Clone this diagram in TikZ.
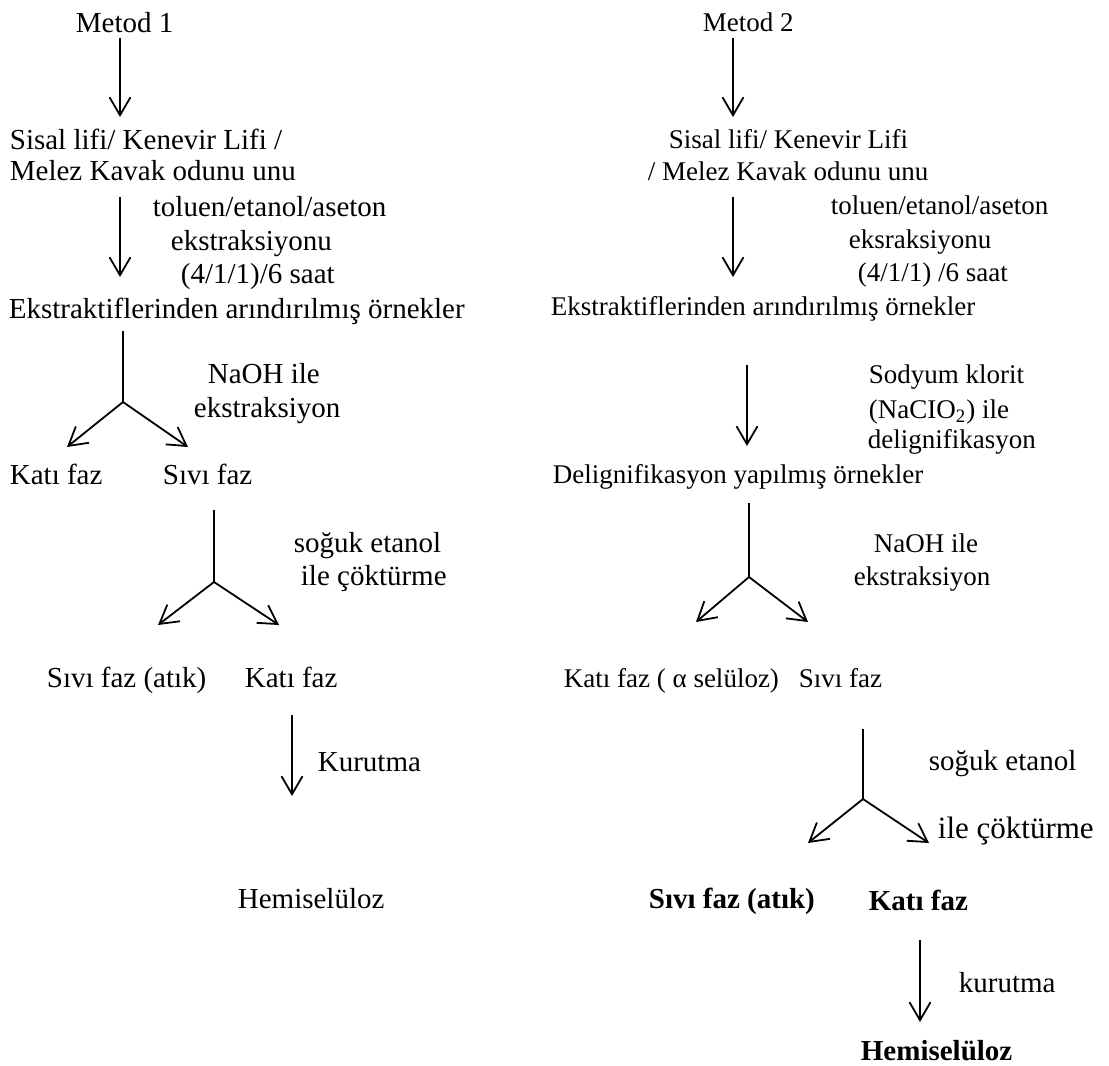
\documentclass[tikz,border=0pt]{standalone}
\usepackage{fontspec}
\setmainfont{Liberation Serif}
\usetikzlibrary{arrows.meta}

\begin{document}
\begin{tikzpicture}[
            x=0.5pt,
            y=-0.5pt,
            >={Straight Barb[length=9pt,width=10.5pt]},
            line width=0.9pt,
            big/.style={font=\fontsize{14.5}{17}\selectfont, inner sep=0pt, anchor=base west},
            small/.style={font=\fontsize{13.5}{16}\selectfont, inner sep=0pt, anchor=base west}
        ]

            \useasboundingbox (0,0) rectangle (1109,1066);

            % --- Metod 1 (left column) ---
            \node[big] (m1)     at (75,32)   {Metod 1};
            \node[big] (srcLa)  at (9,149)   {Sisal lifi/ Kenevir Lifi /};
            \node[big] (srcLb)  at (9,180)   {Melez Kavak odunu unu};
            \node[big] (condLa) at (152,216) {toluen/etanol/aseton};
            \node[big] (condLb) at (170,250) {ekstraksiyonu};
            \node[big] (condLc) at (180,283) {(4/1/1)/6 saat};
            \node[big] (extL)   at (8,318)   {Ekstraktiflerinden arındırılmış örnekler};
            \node[big] (naohLa) at (207,383) {NaOH ile};
            \node[big] (naohLb) at (193,417) {ekstraksiyon};
            \node[big] (katiL)  at (9,484)   {Katı faz};
            \node[big] (siviL)  at (162,484) {Sıvı faz};
            \node[big] (sogLa)  at (293,552) {soğuk etanol};
            \node[big] (sogLb)  at (300,585) {ile çöktürme};
            \node[big] (atikL)  at (46,687)  {Sıvı faz (atık)};
            \node[big] (katiLb) at (244,687) {Katı faz};
            \node[big] (kurL)   at (317,771) {Kurutma};
            \node[big] (hemiL)  at (237,908) {Hemiselüloz};

            % --- Metod 2 (right column) ---
            \node[small] (m2)     at (702,31)  {Metod 2};
            \node[small] (srcRa)  at (668,148) {Sisal lifi/ Kenevir Lifi};
            \node[small] (srcRb)  at (647,180) {/ Melez Kavak odunu unu};
            \node[small] (condRa) at (830,214) {toluen/etanol/aseton};
            \node[small] (condRb) at (848,248) {eksraksiyonu};
            \node[small] (condRc) at (857,281) {(4/1/1) /6 saat};
            \node[small] (extR)   at (550,315) {Ekstraktiflerinden arındırılmış örnekler};
            \node[small] (sodRa)  at (868,383) {Sodyum klorit};
            \node[small] (sodRb)  at (868,418) {(NaCIO\textsubscript{2}) ile};
            \node[small] (sodRc)  at (867,448) {delignifikasyon};
            \node[small] (delR)   at (552,483) {Delignifikasyon yapılmış örnekler};
            \node[small] (naohRa) at (873,552) {NaOH ile};
            \node[small] (naohRb) at (853,585) {ekstraksiyon};
            \node[small] (katiR)  at (563,687) {Katı faz ( α selüloz)};
            \node[small] (siviR)  at (798,687) {Sıvı faz};
            \node[big]   (sogRa)  at (928,770) {soğuk etanol};
            \node[big, font=\fontsize{15.5}{18}\selectfont] (sogRb) at (937,838) {ile çöktürme};
            \node[big, font=\fontsize{14.5}{17}\selectfont\bfseries] (atikR)  at (648,908) {Sıvı faz (atık)};
            \node[big, font=\fontsize{14.5}{17}\selectfont\bfseries] (katiRb) at (868,910) {Katı faz};
            \node[big]   (kurR)   at (958,992) {kurutma};
            \node[big, font=\fontsize{14.5}{17}\selectfont\bfseries] (hemiR)  at (860,1060) {Hemiselüloz};

            % --- Arrow end points ---
            \coordinate (aL1) at (120,38);  \coordinate (bL1) at (120,117);
            \coordinate (aL2) at (120,197); \coordinate (bL2) at (120,277);
            \coordinate (aL3) at (123,331); \coordinate (jL3) at (123,402);
            \coordinate (lL3) at (67,447);  \coordinate (rL3) at (188,447);
            \coordinate (aL4) at (214,510); \coordinate (jL4) at (214,582);
            \coordinate (lL4) at (158,625); \coordinate (rL4) at (279,625);
            \coordinate (aL5) at (292,715); \coordinate (bL5) at (292,796);

            \coordinate (aR1) at (733,38);  \coordinate (bR1) at (733,117);
            \coordinate (aR2) at (733,197); \coordinate (bR2) at (733,277);
            \coordinate (aR3) at (747,365); \coordinate (bR3) at (747,446);
            \coordinate (aR4) at (749,503); \coordinate (jR4) at (749,577);
            \coordinate (lR4) at (696,622); \coordinate (rR4) at (808,622);
            \coordinate (aR5) at (863,729); \coordinate (jR5) at (863,799);
            \coordinate (lR5) at (808,843); \coordinate (rR5) at (929,843);
            \coordinate (aR6) at (920,940); \coordinate (bR6) at (920,1022);

            % --- Left arrows ---
            \draw[->] (aL1) -- (bL1);
            \draw[->] (aL2) -- (bL2);
            \draw (aL3) -- (jL3);
            \draw[->] (jL3) -- (lL3);
            \draw[->] (jL3) -- (rL3);
            \draw (aL4) -- (jL4);
            \draw[->] (jL4) -- (lL4);
            \draw[->] (jL4) -- (rL4);
            \draw[->] (aL5) -- (bL5);

            % --- Right arrows ---
            \draw[->] (aR1) -- (bR1);
            \draw[->] (aR2) -- (bR2);
            \draw[->] (aR3) -- (bR3);
            \draw (aR4) -- (jR4);
            \draw[->] (jR4) -- (lR4);
            \draw[->] (jR4) -- (rR4);
            \draw (aR5) -- (jR5);
            \draw[->] (jR5) -- (lR5);
            \draw[->] (jR5) -- (rR5);
            \draw[->] (aR6) -- (bR6);

        \end{tikzpicture}
\end{document}
